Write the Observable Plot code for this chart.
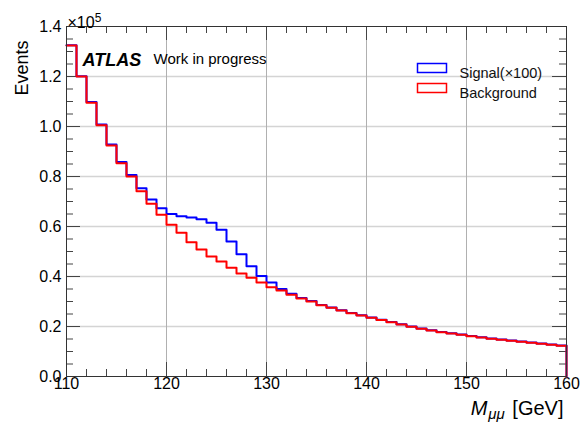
<!DOCTYPE html>
<html>
<head>
<meta charset="utf-8">
<script src="https://cdn.jsdelivr.net/npm/d3@7"></script>
<script src="https://cdn.jsdelivr.net/npm/@observablehq/plot@0.6"></script>
<style>
  body { margin: 0; background: #fff; }
  #chart { width: 581px; height: 428px; }
</style>
</head>
<body>
<div id="chart"></div>
<script>
// Dimuon invariant-mass histogram, 1 GeV bins from 110 to 160 GeV
const binLow = [110,111,112,113,114,115,116,117,118,119,
                120,121,122,123,124,125,126,127,128,129,
                130,131,132,133,134,135,136,137,138,139,
                140,141,142,143,144,145,146,147,148,149,
                150,151,152,153,154,155,156,157,158,159];

const background = [132400,120000,109500,100500,92400,85300,80000,74100,69100,64700,
                    60700,57500,53700,50800,48000,46000,43500,41200,39500,37600,
                    35700,34400,32700,31200,30000,28500,27500,26400,25300,24400,
                    23500,22600,21700,20800,19900,19100,18400,17700,17200,16700,
                    16100,15600,15100,14700,14300,13900,13500,13100,12700,12300];

const signalX100 = [132500,120100,109800,100800,92800,85800,80600,75300,70800,67300,
                    65000,64100,63600,62900,61500,58700,54000,48900,44100,40200,
                    37600,35000,33100,31400,30200,28600,27600,26500,25400,24500,
                    23600,22700,21800,20900,20000,19200,18500,17800,17300,16800,
                    16200,15700,15200,14800,14400,14000,13600,13200,12800,12400];

const yTicks = [0,20000,40000,60000,80000,100000,120000,140000];
const yMinor = [5000,10000,15000,25000,30000,35000,45000,50000,55000,65000,70000,75000,
                85000,90000,95000,105000,110000,115000,125000,130000,135000];
const xTicks = [110,120,130,140,150,160];
const xMinor = [112,114,116,118,122,124,126,128,132,134,136,138,
                142,144,146,148,152,154,156,158];

const seriesNames = ["Signal(×100)", "Background"];
const seriesColors = ["#0000ff", "#ff0000"];

const binWidth = 1;

// Step outline of the bin contents, dropping to zero at the upper edge
function steps(values) {
  const pts = [];
  values.forEach((v, i) => {
    pts.push({x: binLow[i], y: v});
    pts.push({x: binLow[i] + binWidth, y: v});
  });
  pts.push({x: binLow[binLow.length - 1] + binWidth, y: 0});
  return pts;
}

const W = 581, H = 428;
const mL = 66, mR = 15, mT = 26, mB = 52;
const innerW = W - mL - mR, innerH = H - mT - mB;
const major = 14, minor = 7;
const tickColor = "#444";

// outlined legend swatch
const rectSymbol = {draw(ctx) { ctx.rect(-14.5, -4.5, 29, 9); }};

function legendRow(i, dy) {
  return [
    Plot.dot([seriesNames[i]], {frameAnchor: "top-right", dx: -134.5, dy, symbol: rectSymbol,
                                stroke: seriesColors[i], fill: "none", strokeWidth: 1.5, r: 5}),
    Plot.text([seriesNames[i]], {frameAnchor: "top-right", dx: -107, dy, textAnchor: "start",
                                 fontSize: 14.5, fill: "#111"})
  ];
}

const chart = Plot.plot({
  width: W,
  height: H,
  marginLeft: mL,
  marginRight: mR,
  marginTop: mT,
  marginBottom: mB,
  x: {domain: [110, 160]},
  y: {domain: [0, 140000]},
  style: {fontFamily: "'Liberation Sans', Arial, sans-serif", fontSize: "16px", color: "#000", background: "#fff"},
  marks: [
    // grid
    Plot.ruleY(yTicks.slice(1, -1), {stroke: "#d4d4d4", strokeWidth: 1.6}),
    Plot.ruleX(xTicks.slice(1, -1), {stroke: "#b0b0b0", strokeWidth: 1}),

    // inward ticks on all four sides
    Plot.tickY(yTicks, {y: d => d, stroke: tickColor, insetRight: innerW - major}),
    Plot.tickY(yMinor, {y: d => d, stroke: tickColor, insetRight: innerW - minor}),
    Plot.tickY(yTicks, {y: d => d, stroke: tickColor, insetLeft: innerW - major}),
    Plot.tickY(yMinor, {y: d => d, stroke: tickColor, insetLeft: innerW - minor}),
    Plot.tickX(xTicks, {x: d => d, stroke: tickColor, insetTop: innerH - major}),
    Plot.tickX(xMinor, {x: d => d, stroke: tickColor, insetTop: innerH - minor}),
    Plot.tickX(xTicks, {x: d => d, stroke: tickColor, insetBottom: innerH - major}),
    Plot.tickX(xMinor, {x: d => d, stroke: tickColor, insetBottom: innerH - minor}),

    // tick labels
    Plot.axisY(yTicks, {tickSize: 0, tickPadding: 5, label: null, fontSize: 16,
                        tickFormat: d => (d / 1e5).toFixed(1)}),
    Plot.axisX(xTicks, {tickSize: 0, tickPadding: 1, label: null, fontSize: 16}),

    // histograms
    Plot.line(steps(signalX100), {x: "x", y: "y", stroke: seriesColors[0], strokeWidth: 2}),
    Plot.line(steps(background), {x: "x", y: "y", stroke: seriesColors[1], strokeWidth: 2}),

    Plot.frame({stroke: "#333", strokeWidth: 1}),

    // legend
    ...legendRow(0, 41.5),
    ...legendRow(1, 61.5),

    // labels and annotations
    Plot.text(["ATLAS"], {frameAnchor: "top-left", dx: 16, dy: 27, textAnchor: "start",
                          fontSize: 18, fontWeight: "bold", fontStyle: "italic"}),
    Plot.text(["Work in progress"], {frameAnchor: "top-left", dx: 87, dy: 27, textAnchor: "start",
                                     fontSize: 15}),
    Plot.text(["×105"], {frameAnchor: "top-left", dx: 1, dy: -10, textAnchor: "start", fontSize: 16}),
    Plot.text(["Events"], {frameAnchor: "top-left", dx: -51, dy: 14, rotate: -90, textAnchor: "end",
                           fontSize: 18}),
    Plot.text(["Mμμ [GeV]"], {frameAnchor: "bottom-right", dx: -3, dy: 38, textAnchor: "end",
                              fontSize: 20})
  ]
});

document.getElementById("chart").appendChild(chart);

// rich text: italic M with a μμ subscript, and the ×10^5 exponent
d3.select(chart).selectAll("text").each(function() {
  const t = d3.select(this);
  const s = t.text();
  if (s === "Mμμ [GeV]") {
    t.text(null);
    t.append("tspan").attr("font-style", "italic").text("M");
    t.append("tspan").attr("font-style", "italic").attr("font-size", 15).attr("dx", 1).attr("dy", 4).text("μμ");
    t.append("tspan").attr("dy", -4).attr("dx", 2).text(" [GeV]");
  } else if (s === "×105") {
    t.text(null);
    t.append("tspan").text("×10");
    t.append("tspan").attr("font-size", 12).attr("dy", -6).text("5");
  }
});
</script>
</body>
</html>
